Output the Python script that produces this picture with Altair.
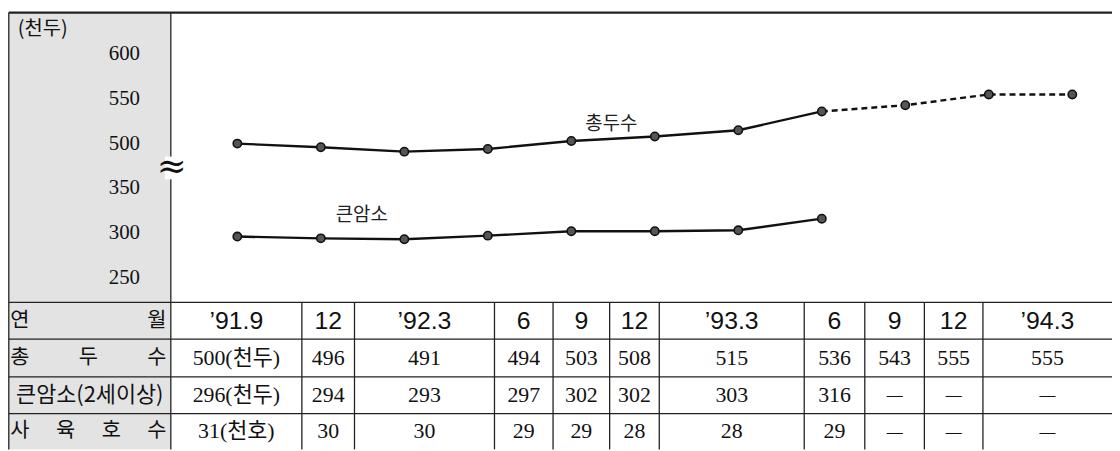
import altair as alt
import pandas as pd

# ---------------- data ----------------
periods = ["’91.9", "12", "’92.3", "6", "9", "12", "’93.3", "6", "9", "12", "’94.3"]
total = [500, 496, 491, 494, 503, 508, 515, 536, 543, 555, 555]
big_cows = [296, 294, 293, 297, 302, 302, 303, 316, None, None, None]
households = [31, 30, 30, 29, 29, 28, 28, 29, None, None, None]
y_ticks = [250, 300, 350, 500, 550, 600]
row_labels = ["연월", "총두수", "큰암소(2세이상)", "사육호수"]
unit_head = "(천두)"
unit_house = "(천호)"
series_names = ["총두수", "큰암소"]
forecast_from = 7  # index after which total is dashed

# ---------------- layout ----------------
W, H = 1112, 443
OX, OY = 8, 8
col_edges = [172, 304, 357, 498, 557, 614, 664, 810, 871, 931, 990, 1120]
row_edges = [303, 340, 378, 415, 451]
LEFT, TOP, SPLIT = 8.8, 11, 172


def sx():
    return alt.Scale(domain=[OX, OX + W], range=[0, W], zero=False, nice=False)


def sy():
    return alt.Scale(domain=[OY, OY + H], range=[0, H], zero=False, nice=False)


xs = alt.Scale(domain=[0, 10], range=[231, 1072], zero=False, nice=False)
ys = alt.Scale(domain=[250, 500], range=[270, 45], zero=False, nice=False)
TEXPR = "datum.value >= 425 ? datum.value - 100 : datum.value"

# ---------------- structure ----------------
panel = alt.Chart(pd.DataFrame({"x": [LEFT], "x2": [SPLIT], "y": [TOP], "y2": [451]})).mark_rect(
    color="#e3e3e3"
).encode(
    x=alt.X("x:Q", scale=sx(), axis=None), x2="x2:Q",
    y=alt.Y("y:Q", scale=sy(), axis=None), y2="y2:Q",
)

hlines = pd.DataFrame({
    "y": [TOP] + row_edges[:-1],
    "x": [LEFT] * 5,
    "x2": [1120] * 5,
    "w": [2.2, 1.3, 1.3, 1.3, 1.3],
})
hrule = alt.Chart(hlines).mark_rule(color="#222").encode(
    x=alt.X("x:Q", scale=sx(), axis=None), x2="x2:Q",
    y=alt.Y("y:Q", scale=sy(), axis=None),
    strokeWidth=alt.StrokeWidth("w:Q", scale=None, legend=None),
)

vx = [LEFT, SPLIT] + col_edges[1:-1]
vy = [TOP, TOP] + [row_edges[0]] * (len(col_edges) - 2)
vlines = pd.DataFrame({"x": vx, "y": vy, "y2": [451] * len(vx)})
vrule = alt.Chart(vlines).mark_rule(color="#222", strokeWidth=1.3).encode(
    x=alt.X("x:Q", scale=sx(), axis=None),
    y=alt.Y("y:Q", scale=sy(), axis=None), y2="y2:Q",
)

# break mark on the axis line
mask = alt.Chart(pd.DataFrame({"x": [166], "x2": [180], "y": [156], "y2": [179]})).mark_rect(
    color="white"
).encode(
    x=alt.X("x:Q", scale=sx(), axis=None), x2="x2:Q",
    y=alt.Y("y:Q", scale=sy(), axis=None), y2="y2:Q",
)
brk = alt.Chart(pd.DataFrame({"x": [173], "y": [167], "t": ["≈"]})).mark_text(
    font="DejaVu Serif", fontSize=36, color="#111", baseline="middle", align="center"
).encode(
    x=alt.X("x:Q", scale=sx(), axis=None),
    y=alt.Y("y:Q", scale=sy(), axis=None), text="t:N",
)

unit = alt.Chart(pd.DataFrame({"x": [43], "y": [28], "t": [unit_head]})).mark_text(
    font="Noto Sans CJK KR", fontSize=20, color="#111", baseline="middle", align="center"
).encode(
    x=alt.X("x:Q", scale=sx(), axis=None),
    y=alt.Y("y:Q", scale=sy(), axis=None), text="t:N",
)

# y tick labels through the data scale
ticks = alt.Chart(pd.DataFrame({"value": y_ticks})).transform_calculate(
    t=TEXPR, lab="format(datum.value, 'd')", xx="141"
).mark_text(
    font="Liberation Serif", fontSize=21, color="#111", baseline="middle", align="right"
).encode(
    x=alt.X("xx:Q", scale=sx(), axis=None),
    y=alt.Y("t:Q", scale=ys, axis=None), text="lab:N",
)

# ---------------- series ----------------
rows = []
for i in range(len(total)):
    rows.append({"i": i, "series": series_names[0], "value": total[i]})
    if big_cows[i] is not None:
        rows.append({"i": i, "series": series_names[1], "value": big_cows[i]})
sdf = pd.DataFrame(rows)

base = alt.Chart(sdf).transform_calculate(t=TEXPR)
enc = dict(
    x=alt.X("i:Q", scale=xs, axis=None),
    y=alt.Y("t:Q", scale=ys, axis=None),
    detail="series:N",
)
solid = base.transform_filter(
    f"datum.series == '{series_names[1]}' || datum.i <= {forecast_from}"
).mark_line(color="#111", strokeWidth=2.4).encode(**enc)
dashed = base.transform_filter(
    f"datum.series == '{series_names[0]}' && datum.i >= {forecast_from}"
).mark_line(color="#111", strokeWidth=2.4, strokeDash=[6, 4]).encode(**enc)
pts = base.mark_point(
    filled=True, shape="circle", size=70, color="#555", stroke="#111", strokeWidth=1.6, opacity=1
).encode(**enc)

lab_df = pd.DataFrame({"i": [4.48, 1.49], "value": [522, 320], "t2": series_names})
labels = alt.Chart(lab_df).transform_calculate(t=TEXPR).mark_text(
    font="Noto Sans CJK KR", fontSize=19, color="#222", baseline="middle", align="center"
).encode(
    x=alt.X("i:Q", scale=xs, axis=None),
    y=alt.Y("t:Q", scale=ys, axis=None), text="t2:N",
)

# ---------------- table ----------------
row_c = [(row_edges[k] + row_edges[k + 1]) / 2 for k in range(4)]
cells = []
for c in range(len(periods)):
    xc = (col_edges[c] + col_edges[c + 1]) / 2
    cells.append({"x": xc, "y": row_c[0], "t": periods[c], "kind": "head"})
    tv = f"{total[c]}{unit_head}" if c == 0 else str(total[c])
    cells.append({"x": xc, "y": row_c[1], "t": tv, "kind": "num"})
    if big_cows[c] is None:
        cells.append({"x": xc, "y": row_c[2], "t": "—", "kind": "dash"})
    else:
        cv = f"{big_cows[c]}{unit_head}" if c == 0 else str(big_cows[c])
        cells.append({"x": xc, "y": row_c[2], "t": cv, "kind": "num"})
    if households[c] is None:
        cells.append({"x": xc, "y": row_c[3], "t": "—", "kind": "dash"})
    else:
        hv = f"{households[c]}{unit_house}" if c == 0 else str(households[c])
        cells.append({"x": xc, "y": row_c[3], "t": hv, "kind": "num"})
cdf = pd.DataFrame(cells)


def cell_layer(kind, font, size):
    return alt.Chart(cdf).transform_filter(f"datum.kind == '{kind}'").mark_text(
        font=font, fontSize=size, color="#111", baseline="middle", align="center"
    ).encode(
        x=alt.X("x:Q", scale=sx(), axis=None),
        y=alt.Y("y:Q", scale=sy(), axis=None), text="t:N",
    )


head_txt = cell_layer("head", "Liberation Sans", 25)
num_txt = cell_layer("num", "Liberation Serif, Noto Sans CJK KR", 22)
dash_txt = cell_layer("dash", "Liberation Serif", 16)

# row labels: spread characters across the label cell
rl = []
for k, lab in enumerate(row_labels):
    if "(" in lab:
        rl.append({"x": (LEFT + SPLIT) / 2, "y": row_c[k], "t": lab, "s": 22})
    else:
        n = len(lab)
        for j, ch in enumerate(lab):
            rl.append({"x": 20 + j * (158 - 20) / (n - 1), "y": row_c[k], "t": ch, "s": 21})
rlabels = alt.Chart(pd.DataFrame(rl)).mark_text(
    font="Noto Sans CJK KR", color="#111", baseline="middle", align="center"
).encode(
    x=alt.X("x:Q", scale=sx(), axis=None),
    y=alt.Y("y:Q", scale=sy(), axis=None), text="t:N",
    size=alt.Size("s:Q", scale=None, legend=None),
)

chart = alt.layer(
    panel, hrule, vrule, mask, brk, unit, ticks,
    solid, dashed, pts, labels,
    head_txt, num_txt, dash_txt, rlabels,
).resolve_scale(x="independent", y="independent").properties(
    width=W, height=H, padding=0, autosize=alt.AutoSizeParams(type="none")
).configure_view(stroke=None)

chart.save("out.html", embed_options={"renderer": "svg", "actions": False})
